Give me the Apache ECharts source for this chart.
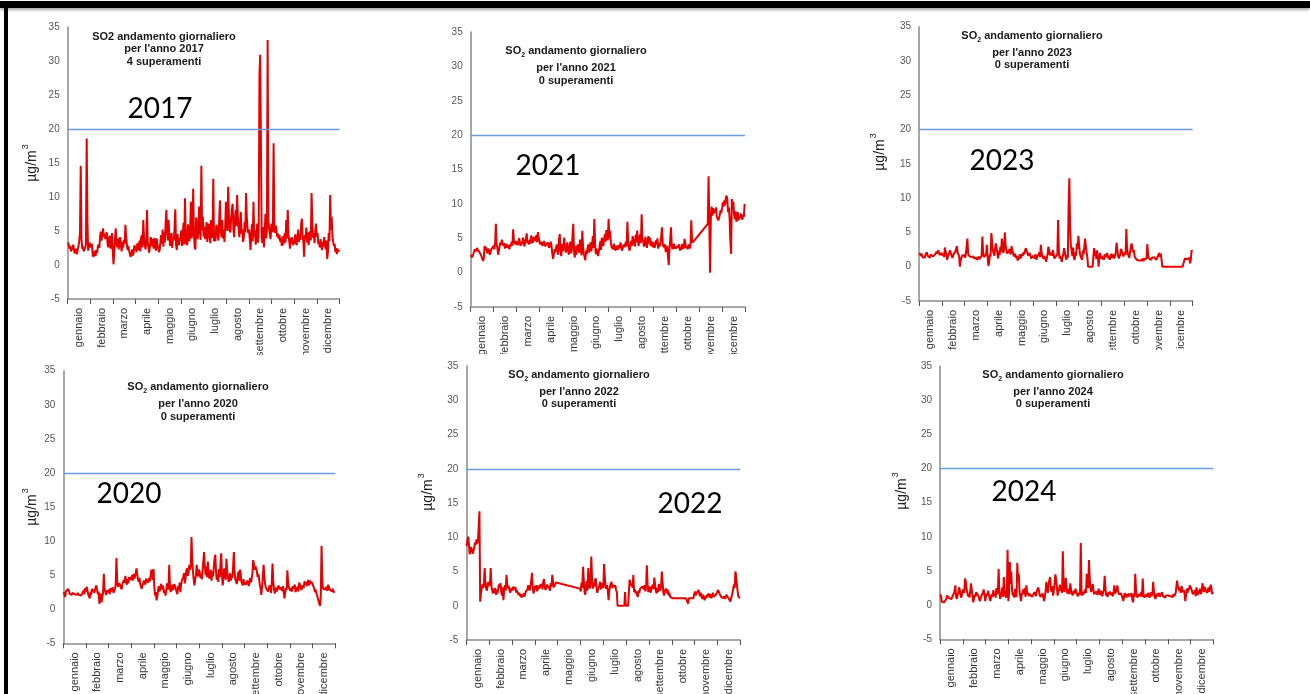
<!DOCTYPE html>
<html>
<head>
<meta charset="utf-8">
<script src="https://cdn.jsdelivr.net/npm/echarts@6/dist/echarts.min.js"></script>
<style>
  html, body { margin: 0; padding: 0; background: #fff; width: 1310px; height: 694px; overflow: hidden; }
  .panel { position: absolute; overflow: hidden; }
  #topbar { position: absolute; left: 0; top: 1px; width: 1310px; height: 7px; background: #000; box-shadow: 0 2px 3px rgba(0,0,0,0.35); }
  #leftbar { position: absolute; left: 4px; top: 1px; width: 4px; height: 693px; background: #000; }
</style>
</head>
<body>
<div id="topbar"></div>
<div id="leftbar"></div>
<div id="p2017" class="panel"></div>
<div id="p2021" class="panel"></div>
<div id="p2023" class="panel"></div>
<div id="p2020" class="panel"></div>
<div id="p2022" class="panel"></div>
<div id="p2024" class="panel"></div>
<script>
// Month labels on the category axis
const MONTHS = ['gennaio', 'febbraio', 'marzo', 'aprile', 'maggio', 'giugno',
  'luglio', 'agosto', 'settembre', 'ottobre', 'novembre', 'dicembre'];

// Value axis ticks and the reference level
const Y_MIN = -5, Y_MAX = 35, Y_STEP = 5;
const LIMIT = 20;

// Daily SO2 means (µg/m³), one array per year; null = no measurement
const so2_2017 = [
  3.3,2.9,2.4,2.8,2.0,1.8,2.5,3.0,2.2,1.7,2.4,2.0,1.6,2.3,2.8,3.5,4.7,14.6,3.9,2.4,2.7,2.0,1.9,2.6,3.0,18.6,6.4,2.1,2.8,3.3,2.6,
  2.4,3.1,1.5,1.2,1.4,2.1,1.3,2.2,1.8,2.7,3.0,2.5,4.2,4.9,3.6,4.5,5.4,4.1,4.6,3.8,4.4,4.8,3.2,2.6,3.9,4.3,2.4,3.0,
  4.7,2.1,0.1,1.9,3.8,5.4,3.2,2.6,3.9,2.3,3.5,4.1,2.8,2.0,3.4,2.6,3.7,3.1,5.9,4.3,3.0,2.2,2.8,2.1,1.6,1.2,1.5,2.3,1.4,1.7,2.9,
  3.1,2.4,1.9,3.2,2.2,2.8,3.6,2.0,3.9,4.4,2.6,6.6,4.1,3.0,2.3,3.5,8.1,3.2,2.5,1.8,2.9,4.1,3.6,2.7,3.8,2.4,4.0,3.3,2.1,3.9,
  3.0,2.5,1.9,2.2,3.4,4.4,3.1,5.2,2.7,4.8,3.3,6.1,8.1,5.0,3.6,6.6,4.2,2.8,3.9,4.7,2.5,4.1,3.6,5.5,8.2,3.0,2.2,4.6,3.4,2.9,4.0,
  3.6,5.1,2.8,4.4,6.2,3.0,9.8,4.5,3.2,2.9,6.0,4.1,3.5,5.6,9.3,3.9,5.2,11.2,4.7,2.6,2.3,7.0,6.1,3.8,4.9,8.6,5.4,3.7,14.6,5.1,
  7.1,4.2,5.6,3.8,4.7,6.3,3.4,5.0,6.1,4.4,3.2,6.6,5.2,4.0,12.7,3.5,3.8,3.5,5.9,5.5,4.3,3.6,6.8,9.5,5.0,4.1,6.6,3.9,5.2,3.4,5.6,
  9.3,6.2,5.0,11.5,7.4,5.1,4.8,6.9,8.2,9.0,5.3,4.1,6.4,8.1,5.7,10.3,7.2,5.5,4.1,6.0,7.8,4.6,5.2,3.4,4.0,6.3,4.8,10.6,7.1,5.4,4.7,
  5.2,3.8,2.2,4.6,6.0,3.5,9.3,4.2,5.1,3.0,4.4,6.1,3.3,4.9,27.9,30.9,30.7,4.1,3.2,5.6,2.6,4.4,7.5,3.9,5.0,33.1,6.6,5.3,4.5,3.8,
  6.1,5.5,4.8,17.9,6.3,4.7,5.8,5.0,4.1,4.6,3.8,4.4,3.4,3.9,2.8,4.2,3.0,3.6,4.7,3.3,6.6,3.9,8.1,4.4,3.5,2.4,4.0,3.2,4.1,2.9,3.6,
  3.1,4.5,3.8,2.9,4.1,5.2,3.4,4.6,3.7,6.0,6.8,4.2,3.5,1.2,4.4,3.9,5.5,3.3,4.8,2.9,4.1,5.0,3.6,10.6,6.3,4.0,4.7,3.2,5.1,6.1,
  4.2,4.7,3.1,3.4,2.6,3.8,2.9,2.2,3.4,2.7,4.1,3.0,2.3,3.6,0.9,2.0,4.7,3.5,10.3,5.2,7.1,4.3,3.4,2.8,3.1,1.9,2.5,1.6,2.4,2.0,2.2
];

const so2_2021 = [
  2.6,2.2,2.0,2.7,2.9,3.4,3.5,3.1,3.6,3.3,3.4,3.0,2.9,2.6,2.8,2.4,1.7,2.1,3.9,3.3,3.7,3.1,2.8,3.5,3.2,2.6,3.0,3.4,3.6,3.2,3.9,
  3.4,4.2,7.1,4.1,3.6,2.6,3.2,3.9,4.4,4.0,4.8,4.6,3.9,4.3,3.5,3.9,4.2,3.6,4.0,3.7,3.4,4.1,3.8,4.5,3.9,6.3,4.6,4.4,
  4.1,4.6,4.3,4.0,4.4,5.0,4.2,3.9,4.5,4.1,5.1,4.7,3.8,4.4,4.9,5.7,4.3,4.6,4.1,4.8,4.2,5.4,5.0,4.3,4.8,5.2,4.6,4.9,5.5,4.4,5.9,
  5.0,4.6,4.1,4.5,4.4,3.9,4.2,4.6,4.1,3.8,4.3,4.0,4.4,4.2,3.6,4.1,4.5,3.9,2.8,2.0,2.6,3.4,2.9,2.7,4.1,3.3,2.6,4.8,5.6,3.2,
  2.4,4.2,3.1,3.8,5.1,3.5,2.9,2.7,4.4,3.2,2.6,3.6,4.5,2.8,3.3,5.4,7.1,3.0,2.2,3.9,2.6,3.4,4.1,3.2,2.9,4.8,3.7,2.5,6.1,3.8,2.7,
  2.3,1.8,3.2,2.7,3.6,4.1,2.9,3.7,4.4,3.1,4.0,5.3,3.6,7.8,4.2,2.7,3.5,2.9,2.4,2.2,3.8,4.6,3.3,5.1,4.2,3.9,4.8,5.6,4.5,6.2,
  5.4,4.7,7.8,5.0,6.1,4.3,3.7,3.5,3.4,4.2,3.8,3.2,3.6,3.9,3.3,4.0,3.5,3.9,4.4,3.6,3.2,3.4,4.1,3.7,3.5,4.5,3.8,7.4,4.6,3.6,3.2,
  3.4,4.6,3.9,5.3,5.1,4.2,3.8,5.5,4.4,6.1,4.7,3.9,5.0,5.6,4.3,8.5,4.9,4.6,3.8,4.4,5.2,4.1,3.6,4.8,5.3,4.2,5.1,3.9,4.6,4.0,3.7,
  4.4,3.6,3.9,4.7,4.1,5.0,3.5,4.2,3.8,4.5,5.2,6.6,4.3,3.7,3.6,4.1,3.0,3.2,3.9,2.4,1.1,3.5,4.8,6.6,4.0,3.4,3.6,4.2,3.5,3.8,
  3.5,3.9,3.6,3.4,4.1,3.2,3.7,3.3,4.2,3.8,3.5,4.9,4.4,3.6,3.9,3.4,3.7,4.1,3.5,4.0,7.6,4.8,4.4,4.3,4.6,null,null,null,null,null,null,
  null,null,null,null,null,null,null,null,null,null,null,7.1,14.0,7.4,0.0,7.8,9.6,8.3,9.4,8.6,9.2,8.8,9.5,8.1,7.9,7.6,8.0,8.4,9.1,8.7,
  9.4,10.2,9.6,10.5,9.8,10.8,11.2,10.6,8.8,9.5,7.9,4.6,2.7,10.7,9.9,10.3,8.4,7.8,8.9,7.4,8.2,8.8,7.6,8.3,7.9,8.6,8.0,7.7,8.4,8.1,10.0
];

const so2_2023 = [
  2.0,1.8,1.6,1.9,1.4,1.2,1.5,1.3,1.7,1.9,2.1,1.6,1.4,1.5,1.3,1.8,1.6,1.9,1.5,1.4,1.7,1.8,1.6,2.2,1.9,2.4,2.1,1.7,1.5,1.8,2.0,
  1.6,1.9,1.4,2.8,2.2,1.8,1.0,1.5,1.7,2.1,2.4,1.9,1.6,1.3,1.5,1.9,1.7,2.2,2.6,3.0,2.1,1.8,1.5,0.0,0.8,1.3,1.6,1.4,
  1.5,1.7,1.3,1.8,1.6,4.1,2.0,1.6,1.5,1.8,1.4,1.6,1.3,1.5,1.2,1.4,1.1,1.3,1.0,1.2,1.5,1.1,1.0,1.3,1.6,4.4,2.1,1.4,1.2,1.5,1.8,
  3.2,1.4,0.1,0.6,1.8,1.5,4.9,3.6,2.4,2.0,1.6,2.7,3.4,2.8,1.9,1.2,2.3,1.7,2.9,2.1,4.1,3.3,2.0,2.6,5.0,3.1,2.5,1.9,2.4,2.0,
  2.6,2.1,1.8,3.0,2.4,2.0,1.5,1.9,1.7,1.3,1.6,0.9,0.7,1.4,1.8,1.2,1.5,1.9,1.6,2.1,1.8,2.4,2.7,2.3,2.0,1.6,1.4,2.0,1.7,1.2,1.0,
  1.3,1.6,1.2,1.5,1.8,1.0,1.4,1.2,1.6,2.1,1.4,3.2,2.0,1.5,1.2,1.6,1.1,1.4,0.7,1.3,1.8,2.9,2.4,1.7,1.5,2.0,1.6,2.4,1.9,1.2,
  1.0,1.5,1.3,1.8,6.8,2.1,1.2,1.6,1.1,0.7,1.4,1.9,2.7,2.2,1.5,1.0,1.7,1.3,8.8,12.9,5.9,3.1,2.4,1.6,2.8,1.3,1.0,2.1,1.6,3.4,2.6,
  4.5,3.2,2.0,1.5,1.3,1.0,2.4,1.8,2.9,4.1,3.0,2.0,1.4,0.0,0.0,0.0,0.0,0.0,0.0,0.0,0.0,2.7,1.6,2.3,1.1,2.4,1.5,0.0,1.3,2.0,1.2,
  1.6,1.1,1.4,1.0,1.8,1.3,1.5,2.0,1.7,1.2,1.6,1.0,1.4,1.9,1.3,1.5,1.8,1.2,1.6,2.2,3.5,2.4,1.6,1.2,1.5,1.9,2.6,2.4,1.8,1.5,
  1.4,2.1,1.7,5.5,2.6,1.9,1.7,1.3,2.2,2.8,3.4,2.9,2.1,2.4,1.6,1.3,1.1,1.0,0.8,1.2,0.9,0.7,1.1,0.9,1.0,1.2,0.8,1.1,1.0,1.3,1.2,
  3.3,1.8,1.2,1.4,1.2,1.0,1.3,1.5,1.1,1.4,1.6,1.2,1.0,1.3,1.5,1.2,2.0,1.4,1.9,1.7,0.0,0.0,0.0,0.0,0.0,0.0,0.0,0.0,0.0,0.0,
  0.0,0.0,0.0,0.0,0.0,0.0,0.0,0.0,0.0,0.0,0.0,0.0,0.0,0.0,0.0,0.0,0.0,0.0,0.0,0.0,1.2,1.3,1.0,1.1,0.9,1.0,1.3,0.5,1.0,2.4,2.2
];

const so2_2020 = [
  2.5,2.2,1.8,2.6,2.8,2.4,3.0,2.7,2.3,2.2,2.5,2.1,2.4,2.6,2.3,2.2,2.0,2.3,2.1,2.4,2.1,1.9,2.2,2.0,1.9,2.3,2.5,2.8,2.2,3.1,2.6,
  3.3,2.7,2.2,1.9,1.6,2.5,2.1,3.0,2.6,2.9,2.4,2.7,3.2,3.5,2.8,2.2,2.6,0.8,1.4,2.3,1.0,1.9,2.4,5.2,3.1,2.6,2.1,2.4,2.8,
  2.5,2.9,2.2,3.1,2.6,2.8,3.2,2.4,2.5,3.0,3.6,7.5,4.2,3.3,3.1,3.8,4.0,3.2,2.9,3.7,3.5,4.3,3.9,4.9,4.1,3.6,4.4,3.8,4.7,4.9,4.3,
  4.6,5.0,4.2,5.2,4.5,4.8,5.3,6.0,5.1,4.4,4.0,4.6,3.8,3.3,3.0,3.5,3.8,4.2,4.0,3.6,4.5,4.2,4.4,3.9,4.6,4.1,4.9,5.8,6.0,4.3,
  5.9,3.2,2.0,2.5,1.3,1.9,2.8,3.4,2.6,3.0,3.7,2.9,3.5,3.2,2.4,2.8,2.0,2.6,3.8,3.3,2.9,6.5,3.4,2.5,3.1,3.6,2.8,3.2,3.7,3.3,2.9,
  3.0,2.2,3.4,2.8,3.9,2.5,3.6,4.2,4.1,4.7,5.3,3.8,4.5,5.6,6.0,4.9,5.3,6.5,5.8,6.2,10.6,7.3,5.5,4.3,3.5,4.4,5.0,6.5,5.2,4.8,
  5.8,5.5,4.6,5.0,4.4,5.9,7.1,8.4,6.0,5.0,6.3,4.7,7.0,5.2,4.5,4.9,5.8,4.2,5.5,4.8,6.1,7.4,8.0,5.6,4.3,5.1,4.0,5.9,4.7,6.6,8.2,
  5.0,3.5,4.8,6.0,5.2,4.3,7.4,5.6,4.7,4.0,4.5,5.3,4.2,5.0,4.6,6.3,8.4,5.4,4.4,4.0,3.7,4.6,5.5,4.2,5.8,5.5,4.1,3.8,3.5,4.4,3.6,
  4.0,3.6,3.5,4.2,3.8,3.4,4.0,4.6,3.9,4.5,5.3,7.2,6.6,5.8,6.3,6.0,5.5,4.7,5.2,4.4,3.5,3.0,2.1,3.3,4.8,6.5,4.9,3.7,3.2,3.1,
  3.4,2.6,2.9,3.5,3.1,2.4,3.8,6.7,4.1,3.0,2.3,2.8,3.2,2.6,3.0,3.5,3.3,2.9,3.2,3.0,2.7,3.4,2.6,1.6,2.4,3.1,2.8,5.7,4.0,3.2,3.0,
  2.7,3.1,2.6,3.4,3.0,2.8,3.6,2.5,2.9,2.8,3.3,2.6,3.9,4.0,3.2,2.8,3.5,3.7,3.1,4.1,3.6,4.0,3.4,3.8,4.3,3.5,3.9,4.2,3.7,4.0,
  3.6,3.8,3.1,2.5,2.9,2.4,2.0,1.6,1.2,0.8,0.5,2.1,9.3,4.2,3.0,2.8,3.1,2.9,3.3,3.5,2.7,3.6,3.2,2.9,3.1,2.8,2.6,3.0,2.5,2.7,2.6
];

const so2_2022 = [
  8.7,9.5,10.1,9.0,7.5,7.3,8.6,8.1,7.6,7.8,8.4,9.2,8.9,9.7,9.1,9.4,9.6,13.8,0.6,1.8,2.5,3.1,2.6,3.3,5.5,2.9,3.1,2.2,3.4,2.8,3.5,
  3.0,5.5,2.8,2.2,1.8,2.5,1.9,2.6,1.6,2.3,1.8,2.0,3.1,2.6,3.3,2.1,1.5,2.7,0.8,2.4,3.0,2.2,4.5,3.1,2.5,2.9,2.3,1.9,
  2.0,2.6,2.2,2.8,2.4,2.5,2.7,1.9,2.2,2.0,1.6,1.9,1.4,1.7,1.2,1.1,1.5,1.8,1.3,1.8,2.1,1.9,2.4,3.0,2.6,2.2,2.9,3.6,4.8,2.7,1.8,
  2.2,2.9,2.4,3.0,2.1,2.6,2.9,2.5,3.1,2.7,3.2,2.4,3.5,3.9,2.8,2.3,2.5,3.1,2.6,2.9,3.0,2.2,3.3,2.8,4.5,3.6,2.7,2.9,2.5,3.4,
  null,null,null,null,null,null,null,null,null,null,null,null,null,null,null,null,null,null,null,null,null,null,null,null,null,null,null,null,null,null,null,
  2.5,2.1,3.4,2.6,5.7,3.8,2.0,1.6,2.9,3.6,2.2,5.5,4.1,2.5,3.2,7.2,4.0,2.5,3.3,2.8,3.7,4.0,2.6,1.9,2.0,2.7,3.1,3.5,2.4,2.9,
  3.3,2.6,6.1,4.2,2.8,2.5,3.0,2.2,0.8,2.1,2.9,3.1,3.5,2.6,2.4,3.0,2.7,3.0,2.3,2.0,0.0,0.0,0.0,0.0,0.0,0.0,0.0,0.0,0.0,0.0,2.0,
  0.0,0.0,0.0,0.0,0.0,3.8,3.5,2.9,3.2,2.6,4.5,2.0,2.4,1.8,2.1,1.6,1.3,2.2,1.9,2.5,2.3,2.5,2.8,3.0,2.4,3.0,2.1,2.7,5.9,3.1,2.0,
  2.2,2.8,1.9,2.5,2.3,3.1,2.4,4.1,3.0,2.2,1.8,2.6,2.0,3.2,2.5,2.2,2.9,5.0,3.4,1.9,1.5,2.2,2.0,2.5,1.8,2.3,1.5,1.9,1.3,1.1,
  1.1,1.1,1.1,1.1,1.1,1.1,1.1,1.1,1.1,1.1,1.1,1.1,1.1,1.1,1.1,1.1,1.1,1.1,1.1,1.1,1.1,1.1,0.3,1.1,1.1,1.1,1.1,1.1,1.1,1.1,1.1,
  2.1,1.5,1.8,1.6,2.0,2.3,1.7,1.4,1.9,1.3,1.0,1.6,1.2,0.8,1.4,1.1,1.6,1.3,1.8,1.5,1.2,1.7,1.1,1.4,1.9,1.3,1.5,1.2,1.6,1.4,
  1.8,2.3,2.0,1.7,1.6,1.3,1.5,1.2,1.1,1.4,1.0,1.3,1.6,1.8,1.2,1.1,0.9,0.6,1.0,1.4,1.8,2.5,3.1,2.6,5.0,4.2,3.0,2.1,1.3,1.2,1.1
];

const so2_2024 = [
  1.6,1.2,0.5,0.4,0.5,0.4,0.6,0.5,0.9,1.4,1.2,1.3,1.0,1.1,0.8,0.9,1.2,1.0,1.4,2.0,2.9,1.3,0.9,1.5,1.8,2.6,2.2,1.4,1.1,1.6,2.3,
  2.5,1.8,3.9,3.5,2.4,1.9,1.3,1.6,1.1,2.0,3.2,3.4,1.4,0.4,1.0,1.5,1.2,1.9,2.1,1.7,1.3,0.9,0.6,1.0,1.4,1.2,1.8,2.3,1.5,
  0.6,1.2,1.7,1.4,2.1,1.5,1.0,0.6,1.3,1.6,1.2,2.2,1.4,1.8,1.1,2.5,1.6,1.9,5.3,2.0,0.9,1.4,1.8,2.6,1.2,4.1,2.3,1.4,1.1,1.9,8.1,
  0.6,1.8,6.3,3.1,4.9,2.2,1.4,1.8,1.1,2.4,1.7,1.2,6.2,3.8,4.6,2.0,1.3,0.6,1.5,1.9,2.3,1.6,2.5,1.2,2.9,2.1,1.5,1.8,1.3,1.6,
  1.4,1.7,1.2,1.5,1.4,1.9,1.6,1.3,2.0,1.8,2.6,2.1,1.5,1.2,1.4,1.1,1.7,1.0,0.6,1.3,2.2,3.4,2.5,1.8,3.0,3.7,4.1,2.4,1.9,2.8,1.4,
  2.2,3.1,4.5,3.8,2.7,1.4,1.9,2.4,3.0,2.1,2.6,1.8,7.9,3.4,1.9,2.8,4.0,2.5,1.7,2.4,2.0,1.6,3.2,2.2,1.8,1.4,1.5,2.1,1.7,2.4,
  2.0,1.6,1.3,1.4,1.8,1.5,9.1,2.2,1.4,1.9,1.6,1.9,2.3,1.8,4.6,3.1,2.5,6.6,4.0,2.4,1.9,2.7,3.1,2.2,1.6,1.4,1.8,2.0,1.5,1.9,2.4,
  1.8,1.5,2.1,1.6,1.3,1.9,2.2,4.3,2.5,1.4,1.7,1.2,1.9,1.6,2.0,1.5,1.4,1.8,1.3,2.0,2.9,1.7,1.5,2.2,2.9,2.1,1.6,1.8,1.4,1.7,1.6,
  1.5,0.6,1.3,1.8,1.1,1.6,1.4,1.2,1.7,1.9,1.5,1.3,1.8,0.9,0.4,1.6,1.2,4.6,2.3,1.4,1.1,1.6,1.8,1.3,1.4,1.9,1.2,3.9,1.6,1.1,
  0.9,1.3,1.6,1.2,1.8,1.4,1.1,1.5,1.9,1.3,1.6,3.4,2.0,1.2,0.9,1.4,1.7,1.3,1.4,1.8,1.2,1.5,1.6,1.9,1.3,1.2,1.5,1.1,1.4,1.6,1.2,
  1.4,1.2,1.5,1.3,1.1,1.4,1.2,1.6,1.3,1.5,1.7,1.6,3.6,2.8,2.4,2.1,2.6,1.8,2.8,2.3,1.9,2.2,1.7,0.6,1.5,2.4,1.8,2.5,2.2,2.9,
  3.1,2.4,2.1,1.6,1.4,1.9,2.2,1.3,2.6,2.0,1.5,1.8,1.9,2.4,1.6,2.2,3.2,2.5,1.9,2.7,2.3,2.4,1.8,2.1,2.6,1.9,1.7,3.0,2.5,1.6,1.9
];

const FONT = "'Liberation Sans', Arial, sans-serif";

// Panel layout in page pixels: box = clip area, plot = [x0, y0, x1, y1] of the axes
const panels = [
  { id: 'p2017', year: '2017', values: so2_2017, days: 365, sub: false,
    box: [10, 12, 420, 343], plot: [67.7, 27, 339.5, 299],
    title: [164, 37, 49, 62], yearPos: [160, 109], unitPos: [32, 163] },
  { id: 'p2021', year: '2021', values: so2_2021, days: 365, sub: true,
    box: [440, 12, 410, 342], plot: [470.7, 32, 745, 307],
    title: [576, 51, 68, 81], yearPos: [548, 166], unitPos: [433, 157] },
  { id: 'p2023', year: '2023', values: so2_2023, days: 365, sub: true,
    box: [860, 12, 445, 338], plot: [919, 26.7, 1192.7, 301],
    title: [1032, 36, 53, 65], yearPos: [1002, 161], unitPos: [880, 152] },
  { id: 'p2020', year: '2020', values: so2_2020, days: 366, sub: true,
    box: [10, 358, 400, 336], plot: [63.3, 370.7, 335.3, 643.3],
    title: [198, 387, 404, 417], yearPos: [129, 494], unitPos: [32, 507] },
  { id: 'p2022', year: '2022', values: so2_2022, days: 365, sub: true,
    box: [410, 358, 440, 336], plot: [466.3, 366, 740.3, 640],
    title: [579, 375, 392, 404], yearPos: [690, 504], unitPos: [428, 492] },
  { id: 'p2024', year: '2024', values: so2_2024, days: 366, sub: true,
    box: [860, 358, 450, 336], plot: [940, 366, 1213.3, 639.3],
    title: [1053, 375, 392, 404], yearPos: [1024, 492], unitPos: [902, 491] }
];

function titleGraphics(p, bx, by) {
  const cx = p.title[0] - bx;
  const bold = { fontSize: 11, fontWeight: 'bold', fontFamily: FONT, fill: '#1a1a1a' };
  const first = p.sub
    ? { text: '{b|SO}{s|2}{b| andamento giornaliero}',
        rich: { b: bold, s: { fontSize: 7, fontWeight: 'bold', fontFamily: FONT, fill: '#1a1a1a', padding: [8, 0, 0, 0] } } }
    : { text: 'SO2 andamento giornaliero', font: 'bold 11px ' + FONT };
  const base = { textAlign: 'center', textVerticalAlign: 'middle', fill: '#1a1a1a' };
  return [
    { type: 'text', x: cx, y: p.title[1] - by, style: Object.assign({}, base, first) },
    { type: 'text', x: cx, y: p.title[2] - by, style: Object.assign({}, base, { text: "per l'anno " + p.year, font: 'bold 11px ' + FONT }) },
    { type: 'text', x: cx, y: p.title[3] - by, style: Object.assign({}, base,
        { text: (p.year === '2017' ? '4' : '0') + ' superamenti', font: 'bold 11px ' + FONT }) }
  ];
}

function buildOption(p) {
  const bx = p.box[0], by = p.box[1];
  const pts = p.values.map((v, i) => [i + 0.5, v]);
  return {
    animation: false,
    grid: { left: p.plot[0] - bx, top: p.plot[1] - by,
            width: p.plot[2] - p.plot[0], height: p.plot[3] - p.plot[1],
            containLabel: false, outerBoundsMode: 'none' },
    xAxis: [
      { type: 'category', data: MONTHS, boundaryGap: true, position: 'bottom',
        axisLine: { onZero: false, lineStyle: { color: '#8a8a8a', width: 1.5 } },
        axisTick: { show: true, interval: 0, length: 5, lineStyle: { color: '#555', width: 1 } },
        axisLabel: { interval: 0, rotate: 90, margin: 9, fontSize: 11, fontFamily: FONT, color: '#333' },
        splitLine: { show: false } },
      { type: 'value', min: 0, max: p.days, show: false }
    ],
    yAxis: { type: 'value', min: Y_MIN, max: Y_MAX, interval: Y_STEP,
      axisLine: { show: true, lineStyle: { color: '#8a8a8a', width: 1.5 } },
      axisTick: { show: false }, splitLine: { show: false },
      axisLabel: { fontSize: 10, fontFamily: FONT, color: '#555', margin: 8 } },
    series: [{
      type: 'line', xAxisIndex: 1, data: pts, symbol: 'none', showSymbol: false,
      connectNulls: true, silent: true,
      lineStyle: { color: '#e60000', width: 2 }, itemStyle: { color: '#e60000' },
      markLine: { silent: true, symbol: 'none', label: { show: false },
        lineStyle: { color: '#6a9be6', width: 1.3, type: 'solid' },
        data: [{ yAxis: LIMIT }] }
    }],
    graphic: titleGraphics(p, bx, by).concat([
      { type: 'text', x: p.yearPos[0] - bx, y: p.yearPos[1] - by,
        style: { text: p.year, font: "28px Lato, 'Open Sans', sans-serif", fill: '#000',
                 textAlign: 'center', textVerticalAlign: 'middle' } },
      { type: 'text', x: p.unitPos[0] - bx, y: p.unitPos[1] - by, rotation: Math.PI / 2,
        style: { text: '{a|µg/m}{s|3}', textAlign: 'center', textVerticalAlign: 'middle',
          rich: { a: { fontSize: 14, fontFamily: FONT, fill: '#222' },
                  s: { fontSize: 9, fontFamily: FONT, fill: '#222', padding: [0, 0, 12, 1] } } } }
    ])
  };
}

panels.forEach(p => {
  const el = document.getElementById(p.id);
  el.style.left = p.box[0] + 'px';
  el.style.top = p.box[1] + 'px';
  el.style.width = p.box[2] + 'px';
  el.style.height = p.box[3] + 'px';
  const chart = echarts.init(el, null, { renderer: 'canvas' });
  chart.setOption(buildOption(p));
});
</script>
</body>
</html>
